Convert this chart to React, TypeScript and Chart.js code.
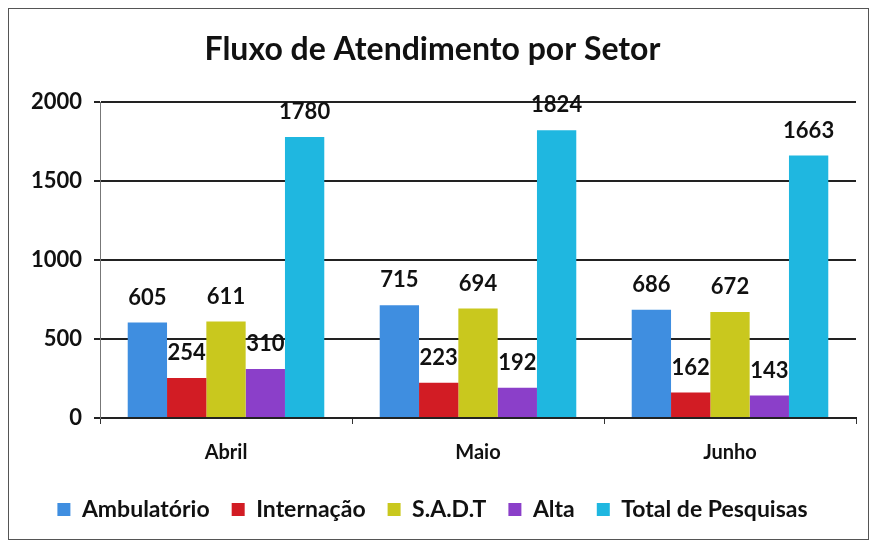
import React, { useEffect, useRef } from "react";
import { Chart, registerables } from "chart.js";

Chart.register(...registerables);

const categories = ["Abril", "Maio", "Junho"];
const seriesNames = ["Ambulatório", "Internação", "S.A.D.T", "Alta", "Total de Pesquisas"];
const ambulatorio = [605, 715, 686];
const internacao = [254, 223, 162];
const sadt = [611, 694, 672];
const alta = [310, 192, 143];
const totalPesquisas = [1780, 1824, 1663];
const colors = ["#3f8ee0", "#d21c24", "#c9c81e", "#8b3fc9", "#1fb7e0"];
const FONT = "Lato, 'Open Sans', sans-serif";

const labelPlugin = {
  id: "barLabels",
  afterDatasetsDraw(chart: any) {
    const ctx = chart.ctx;
    ctx.save();
    ctx.font = `bold 22px ${FONT}`;
    ctx.fillStyle = "#111";
    ctx.textAlign = "center";
    ctx.textBaseline = "middle";
    chart.data.datasets.forEach((ds: any, i: number) => {
      const meta = chart.getDatasetMeta(i);
      meta.data.forEach((bar: any, j: number) => {
        ctx.fillText(String(ds.data[j]), bar.x, bar.y - 25);
      });
    });
    ctx.restore();
  },
};

export default function App() {
  const ref = useRef<HTMLCanvasElement>(null);
  useEffect(() => {
    const data = [ambulatorio, internacao, sadt, alta, totalPesquisas];
    const chart = new Chart(ref.current!, {
      type: "bar",
      data: {
        labels: categories,
        datasets: seriesNames.map((n, i) => ({
          label: n,
          data: data[i],
          backgroundColor: colors[i],
          categoryPercentage: 0.78,
          barPercentage: 1,
        })),
      },
      options: {
        animation: false,
        responsive: false,
        maintainAspectRatio: false,
        layout: { padding: { left: 0, right: 12, top: 0, bottom: 8 } },
        plugins: {
          tooltip: { enabled: false },
          title: {
            display: true,
            text: "Fluxo de Atendimento por Setor",
            color: "#111",
            font: { family: FONT, size: 32, weight: "bold" },
            padding: { top: 21, bottom: 34 },
          },
          legend: {
            position: "bottom",
            labels: {
              color: "#111",
              font: { family: FONT, size: 23, weight: "bold" },
              boxWidth: 13,
              boxHeight: 13,
              padding: 22,
            },
          },
        },
        scales: {
          x: {
            grid: { drawOnChartArea: false, drawTicks: true, tickLength: 6, color: "#333" },
            border: { color: "#222", width: 2 },
            ticks: { color: "#111", font: { family: FONT, size: 20, weight: "bold" }, padding: 17 },
            afterFit: (s: any) => { s.height = 58; },
          },
          y: {
            min: 0,
            max: 2000,
            ticks: {
              stepSize: 500,
              color: "#111",
              font: { family: FONT, size: 22, weight: "bold" },
              padding: 12,
              callback: (v: any) => String(v),
            },
            grid: { color: "#222", lineWidth: 2, tickLength: 6 },
            border: { color: "#777", width: 1 },
            afterFit: (s: any) => { s.width = 91; },
          },
        },
      },
      plugins: [labelPlugin],
    });
    return () => chart.destroy();
  }, []);
  return (
    <div style={{ width: 859, height: 530, border: "1px solid #555", background: "#fff" }}>
      <canvas ref={ref} width={859} height={530} style={{ display: "block" }} />
    </div>
  );
}
